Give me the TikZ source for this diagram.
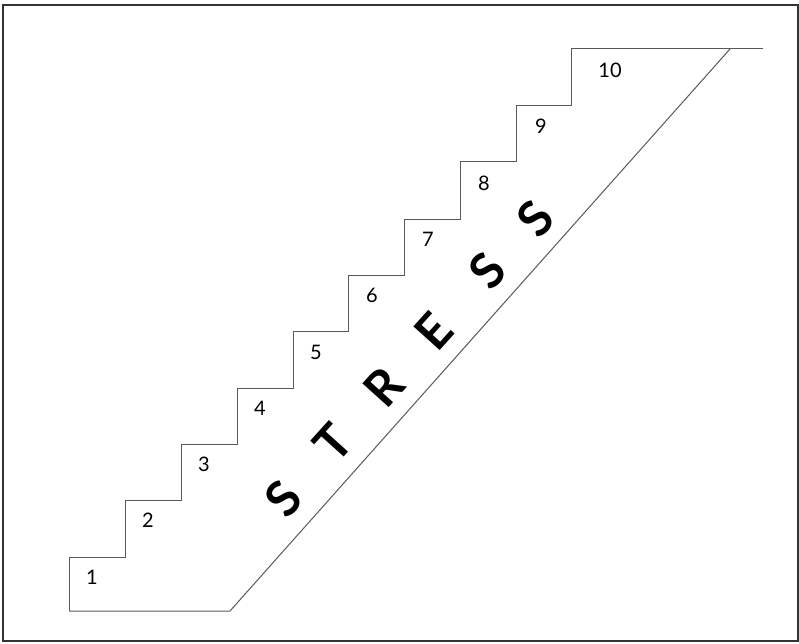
\documentclass[tikz,border=0pt]{standalone}
\usepackage{fontspec}
\setmainfont{Lato}
\usepackage{tikz}
\usetikzlibrary{positioning}

\begin{document}
\begin{tikzpicture}[
        x=1pt, y=-1pt,
        % Styles
        every node/.style = {font=\fontsize{20}{22}\selectfont, inner sep=0pt},
        frame/.style = {draw=black!80, line width=2pt},
        stairs/.style = {draw=black!65, line width=1pt, line join=miter},
        num/.style = {text=black},
        letter/.style = {font=\fontsize{49}{52}\selectfont\bfseries, rotate=48, text=black}
    ]

        \useasboundingbox (0,0) rectangle (799,644);

        % 1. Cadre
        \draw [frame] (3,5) rectangle (798,641);

        % 2. Escalier
        \draw [stairs] (69,611) -- (69,557)
            -- (125,557) -- (125,500)
            -- (181,500) -- (181,444)
            -- (237,444) -- (237,388)
            -- (293,388) -- (293,331)
            -- (348,331) -- (348,275)
            -- (404,275) -- (404,219)
            -- (460,219) -- (460,162)
            -- (516,162) -- (516,106)
            -- (571,106) -- (571,49)
            -- (763,49);
        \draw [stairs] (69,611) -- (230,611) -- (730,49);

        % 3. Numéros des marches
        \node (n1)  [num] at (92,577) {1};
        \node (n2)  [num] at (148,520) {2};
        \node (n3)  [num] at (204,464) {3};
        \node (n4)  [num] at (260,408) {4};
        \node (n5)  [num] at (316,352) {5};
        \node (n6)  [num] at (372,295) {6};
        \node (n7)  [num] at (428,239) {7};
        \node (n8)  [num] at (484,183) {8};
        \node (n9)  [num] at (541,126) {9};
        \node (n10) [num] at (610,70) {10};

        % 4. Le mot le long de la pente
        \node (s1) [letter] at (283,499) {S};
        \node (t)  [letter] at (333,443) {T};
        \node (r)  [letter] at (384,387) {R};
        \node (e)  [letter] at (434,331) {E};
        \node (s2) [letter] at (487,271) {S};
        \node (s3) [letter] at (535,219) {S};

    \end{tikzpicture}
\end{document}
